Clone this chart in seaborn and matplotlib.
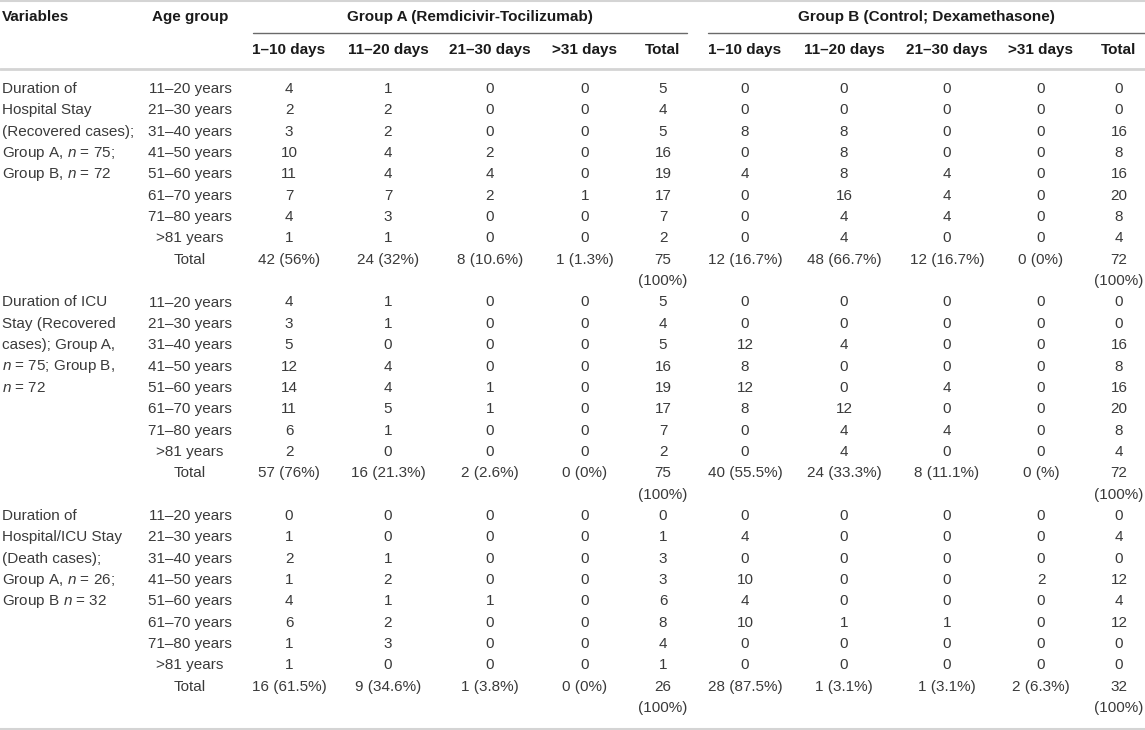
import numpy as np
import pandas as pd
import matplotlib
matplotlib.use('Agg')
import matplotlib.pyplot as plt
import seaborn as sns

# table content
age_groups = ['11–20 years', '21–30 years', '31–40 years', '41–50 years',
              '51–60 years', '61–70 years', '71–80 years', '>81 years']
day_cols = ['1–10 days', '11–20 days', '21–30 days', '>31 days', 'Total']
group_titles = ['Group A (Remdicivir-Tocilizumab)', 'Group B (Control; Dexamethasone)']

variables = [
    ['Duration of', 'Hospital Stay', '(Recovered cases);', 'Group A, $n$ = 75;', 'Group B, $n$ = 72'],
    ['Duration of ICU', 'Stay (Recovered', 'cases); Group A,', '$n$ = 75; Group B,', '$n$ = 72'],
    ['Duration of', 'Hospital/ICU Stay', '(Death cases);', 'Group A, $n$ = 26;', 'Group B $n$ = 32'],
]

# hospital stay, recovered
hosp_A = [[4, 1, 0, 0, 5], [2, 2, 0, 0, 4], [3, 2, 0, 0, 5], [10, 4, 2, 0, 16],
          [11, 4, 4, 0, 19], [7, 7, 2, 1, 17], [4, 3, 0, 0, 7], [1, 1, 0, 0, 2]]
hosp_B = [[0, 0, 0, 0, 0], [0, 0, 0, 0, 0], [8, 8, 0, 0, 16], [0, 8, 0, 0, 8],
          [4, 8, 4, 0, 16], [0, 16, 4, 0, 20], [0, 4, 4, 0, 8], [0, 4, 0, 0, 4]]
hosp_tot_A = ['42 (56%)', '24 (32%)', '8 (10.6%)', '1 (1.3%)', '75']
hosp_tot_B = ['12 (16.7%)', '48 (66.7%)', '12 (16.7%)', '0 (0%)', '72']

# ICU stay, recovered
icu_A = [[4, 1, 0, 0, 5], [3, 1, 0, 0, 4], [5, 0, 0, 0, 5], [12, 4, 0, 0, 16],
         [14, 4, 1, 0, 19], [11, 5, 1, 0, 17], [6, 1, 0, 0, 7], [2, 0, 0, 0, 2]]
icu_B = [[0, 0, 0, 0, 0], [0, 0, 0, 0, 0], [12, 4, 0, 0, 16], [8, 0, 0, 0, 8],
         [12, 0, 4, 0, 16], [8, 12, 0, 0, 20], [0, 4, 4, 0, 8], [0, 4, 0, 0, 4]]
icu_tot_A = ['57 (76%)', '16 (21.3%)', '2 (2.6%)', '0 (0%)', '75']
icu_tot_B = ['40 (55.5%)', '24 (33.3%)', '8 (11.1%)', '0 (%)', '72']

# death cases
death_A = [[0, 0, 0, 0, 0], [1, 0, 0, 0, 1], [2, 1, 0, 0, 3], [1, 2, 0, 0, 3],
           [4, 1, 1, 0, 6], [6, 2, 0, 0, 8], [1, 3, 0, 0, 4], [1, 0, 0, 0, 1]]
death_B = [[0, 0, 0, 0, 0], [4, 0, 0, 0, 4], [0, 0, 0, 0, 0], [10, 0, 0, 2, 12],
           [4, 0, 0, 0, 4], [10, 1, 1, 0, 12], [0, 0, 0, 0, 0], [0, 0, 0, 0, 0]]
death_tot_A = ['16 (61.5%)', '9 (34.6%)', '1 (3.8%)', '0 (0%)', '26']
death_tot_B = ['28 (87.5%)', '1 (3.1%)', '1 (3.1%)', '2 (6.3%)', '32']

sections = [(hosp_A, hosp_B, hosp_tot_A, hosp_tot_B),
            (icu_A, icu_B, icu_tot_A, icu_tot_B),
            (death_A, death_B, death_tot_A, death_tot_B)]

#%%
sns.set_theme(style='white')
plt.rcParams['font.family'] = ['Liberation Sans', 'DejaVu Sans']
plt.rcParams['mathtext.fontset'] = 'custom'
plt.rcParams['mathtext.rm'] = 'Liberation Sans'
plt.rcParams['mathtext.it'] = 'Liberation Sans:italic'

# layout (pixels)
col_x_A = [289, 388, 490, 585, 663]
col_x_B = [745, 844, 947, 1041, 1119]
age_x = 190
row_y0 = 89
row_dy = 21.35
fs = 11
body_color = '#3a3a3a'
head_color = '#1a1a1a'
rule_light = '#d4d4d4'
rule_dark = '#6a6a6a'

fig = plt.figure(figsize=(11.45, 7.3), dpi=100)
ax = fig.add_axes([0, 0, 1, 1])
ax.set_xlim(0, 1145)
ax.set_ylim(730, 0)
ax.axis('off')

# header
ax.text(2, 17, 'Variables', fontsize=fs, fontweight='bold', color=head_color, ha='left', va='center')
ax.text(age_x, 17, 'Age group', fontsize=fs, fontweight='bold', color=head_color, ha='center', va='center')
ax.text((253 + 687) / 2, 17, group_titles[0], fontsize=fs, fontweight='bold', color=head_color, ha='center', va='center')
ax.text((708 + 1145) / 2, 17, group_titles[1], fontsize=fs, fontweight='bold', color=head_color, ha='center', va='center')
for xs in (col_x_A, col_x_B):
    for x, lab in zip(xs, day_cols):
        ax.text(x, 50, lab, fontsize=fs, fontweight='bold', color=head_color, ha='center', va='center')

# rules
ax.plot([0, 1145], [1, 1], color=rule_light, lw=1.5)
ax.plot([253, 687], [33, 33], color=rule_dark, lw=1)
ax.plot([708, 1145], [33, 33], color=rule_dark, lw=1)
ax.plot([0, 1145], [69, 69], color=rule_light, lw=2)
ax.plot([0, 1145], [728.5, 728.5], color=rule_light, lw=1.5)

# body
for s, (grpA, grpB, totA, totB) in enumerate(sections):
    base = s * 10
    for k, line in enumerate(variables[s]):
        ax.text(2, row_y0 + row_dy * (base + k), line, fontsize=fs, color=body_color, ha='left', va='center')
    for r, age in enumerate(age_groups):
        y = row_y0 + row_dy * (base + r)
        ax.text(age_x, y, age, fontsize=fs, color=body_color, ha='center', va='center')
        for xs, vals in ((col_x_A, grpA[r]), (col_x_B, grpB[r])):
            for x, v in zip(xs, vals):
                ax.text(x, y, str(v), fontsize=fs, color=body_color, ha='center', va='center')
    y = row_y0 + row_dy * (base + 8)
    ax.text(age_x, y, 'Total', fontsize=fs, color=body_color, ha='center', va='center')
    for xs, tots in ((col_x_A, totA), (col_x_B, totB)):
        for x, t in zip(xs, tots):
            ax.text(x, y, t, fontsize=fs, color=body_color, ha='center', va='center')
        ax.text(xs[-1], y + row_dy, '(100%)', fontsize=fs, color=body_color, ha='center', va='center')

plt.savefig('out.png', dpi=100, facecolor='white')
